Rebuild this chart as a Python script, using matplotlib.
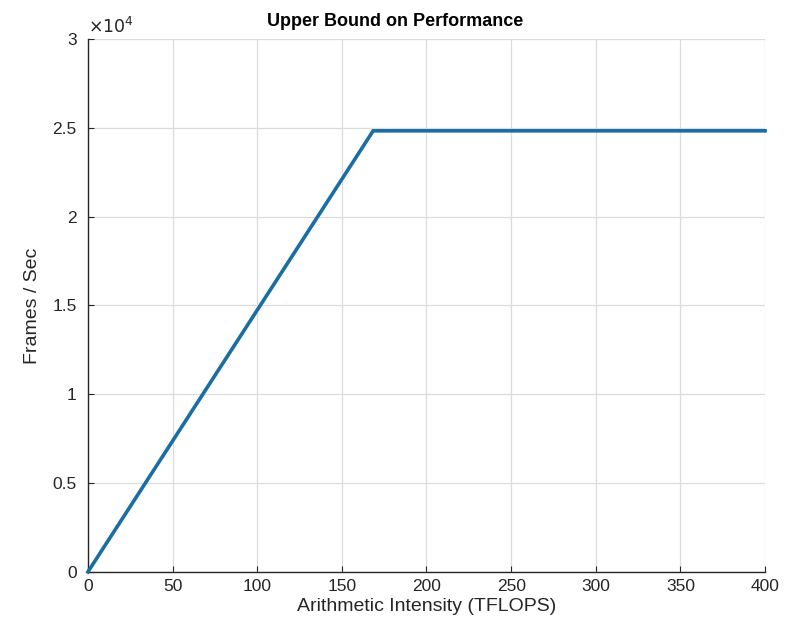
import matplotlib
matplotlib.use('Agg')
import matplotlib.pyplot as plt

# roofline-style bound
ai = [0, 168.5, 400]              # TFLOPS
fps = [0, 24830, 24830]           # frames / sec

x_ticks = [0, 50, 100, 150, 200, 250, 300, 350, 400]
y_ticks = [0, 5000, 10000, 15000, 20000, 25000, 30000]
y_labels = ['0', '0.5', '1', '1.5', '2', '2.5', '3']

plt.rcParams['font.family'] = ['Liberation Sans', 'DejaVu Sans']
dark = '#262626'

fig = plt.figure(figsize=(7.92, 6.39), dpi=100)
ax = fig.add_axes([0.111, 0.105, 0.855, 0.834])

ax.plot(ai, fps, color='#1a6ea3', lw=2.6, solid_joinstyle='miter', clip_on=False, zorder=3)

ax.set_xlim(0, 400)
ax.set_ylim(0, 30000)
ax.set_xticks(x_ticks)
ax.set_yticks(y_ticks)
ax.set_yticklabels(y_labels)
ax.grid(True, color='#dcdcdc', lw=0.9)
ax.set_axisbelow(True)

for s in ['top', 'right']:
    ax.spines[s].set_visible(False)
for s in ['left', 'bottom']:
    ax.spines[s].set_color(dark)
    ax.spines[s].set_linewidth(1.0)

ax.tick_params(direction='in', length=4, width=0.8, colors=dark, labelsize=12.5, pad=5)
ax.tick_params(axis='y', pad=8)

ax.text(0.0, 1.005, r'$\times 10^{4}$', transform=ax.transAxes, fontsize=12.5,
        color=dark, ha='left', va='bottom')

ax.set_xlabel('Arithmetic Intensity (TFLOPS)', fontsize=14, color=dark, labelpad=3)
ax.set_ylabel('Frames / Sec', fontsize=14, color=dark, labelpad=8)
# title sits a bit left of the axes centre in the original
fig.text(395 / 792, 1 - 21 / 639, 'Upper Bound on Performance', fontsize=13,
         fontweight='bold', ha='center', va='center')

fig.savefig('out.png', dpi=100)
